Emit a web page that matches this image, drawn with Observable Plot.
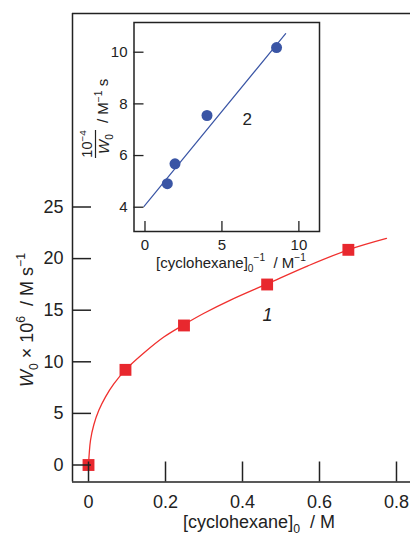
<!DOCTYPE html>
<html><head><meta charset="utf-8">
<script src="https://cdn.jsdelivr.net/npm/d3@7"></script>
<script src="https://cdn.jsdelivr.net/npm/@observablehq/plot@0.6"></script>
<style>
body{margin:0;background:#fff}
#wrap{position:relative;width:410px;height:535px;overflow:hidden;background:#fff}
#wrap svg{position:absolute;left:0;top:0}
</style></head><body><div id="wrap"></div>
<script>
// Main chart (1): W0 vs [cyclohexane]0
const concX = [0, 0.096, 0.248, 0.464, 0.675];
const rateY = [0, 9.22, 13.52, 17.49, 20.85];
const fitX = [0, 0.0052, 0.0138, 0.0268, 0.0442, 0.0657, 0.096, 0.1436, 0.1956, 0.248, 0.30, 0.37, 0.464, 0.57, 0.675, 0.774];
const fitY = [0, 2.4, 3.9, 5.3, 6.6, 7.85, 9.22, 10.85, 12.4, 13.6, 14.7, 16.0, 17.55, 19.3, 20.85, 21.95];
const mainXTicks = [0, 0.2, 0.4, 0.6, 0.8];
const mainYTicks = [0, 5, 10, 15, 20, 25];
// Inset (2): 1e-4/W0 vs 1/[cyclohexane]0
const invX = [1.45, 1.95, 4.03, 8.55];
const invY = [4.91, 5.68, 7.55, 10.18];
const lineX = [-0.06, 9.14];
const lineY = [4.03, 10.72];
const insetXTicks = [0, 5, 10];
const insetYTicks = [4, 6, 8, 10];

const FONT = "'Liberation Sans', Arial, Helvetica, sans-serif";
const INK = "#222";
const RED = "#e8282e";
const BLUE = "#3a55a5";

const xDom = [-0.0416, 0.8364], yDom = [-1.647, 43.75];
const main = Plot.plot({
  width: 410, height: 535,
  marginLeft: 72, marginRight: 0, marginTop: 13, marginBottom: 53.5,
  style: {fontFamily: FONT, fontSize: "18px", background: "transparent", color: INK},
  x: {domain: xDom, label: null},
  y: {domain: yDom, label: null},
  marks: [
    Plot.line(fitX.map((x, i) => ({x, y: fitY[i]})), {x: "x", y: "y", stroke: "#f0302e", strokeWidth: 1.3, curve: "catmull-rom"}),
    Plot.dot(concX.map((x, i) => ({x, y: rateY[i]})), {x: "x", y: "y", symbol: "square", r: 6.7, fill: RED, stroke: "none"}),
    Plot.ruleX([xDom[0]], {stroke: INK, strokeWidth: 1.5}),
    Plot.ruleY([yDom[0], yDom[1]], {stroke: INK, strokeWidth: 1.5}),
    Plot.axisX({ticks: mainXTicks, tickSize: -20, tickPadding: 33, strokeWidth: 1.5, label: null, tickFormat: d => String(d)}),
    Plot.axisY({ticks: mainYTicks, tickSize: -19, tickPadding: 28, strokeWidth: 1.5, label: null, tickFormat: d => String(d)}),
    Plot.text([{x: 0.465, y: 14.5}], {x: "x", y: "y", text: () => "1", fontStyle: "italic", fontSize: 18, fill: INK})
  ]
});

const ixDom = [-0.714, 11.34], iyDom = [3.06, 11.15];
const inset = Plot.plot({
  width: 410, height: 280,
  marginLeft: 133.5, marginRight: 91, marginTop: 22, marginBottom: 49,
  style: {fontFamily: FONT, fontSize: "15px", background: "transparent", color: INK},
  x: {domain: ixDom, label: null},
  y: {domain: iyDom, label: null},
  marks: [
    Plot.frame({fill: "white", stroke: INK, strokeWidth: 1.5}),
    Plot.line(lineX.map((x, i) => ({x, y: lineY[i]})), {x: "x", y: "y", stroke: BLUE, strokeWidth: 1.2}),
    Plot.dot(invX.map((x, i) => ({x, y: invY[i]})), {x: "x", y: "y", r: 5.5, fill: BLUE, stroke: "none"}),
    Plot.axisX({ticks: insetXTicks, tickSize: -10, tickPadding: 18, strokeWidth: 1.3, label: null, tickFormat: d => String(d)}),
    Plot.axisY({ticks: insetYTicks, tickSize: -10, tickPadding: 16.5, strokeWidth: 1.3, label: null, tickFormat: d => String(d)}),
    Plot.text([{x: 6.65, y: 7.4}], {x: "x", y: "y", text: () => "2", fontSize: 17, fill: INK})
  ]
});

const wrap = document.getElementById("wrap");
wrap.appendChild(main);
wrap.appendChild(inset);

function rich(svg, {x, y, rotate = 0, anchor = "middle", size = 18}, parts) {
  const g = d3.select(svg).append("g").attr("transform", `translate(${x},${y}) rotate(${rotate})`);
  const t = g.append("text").attr("text-anchor", anchor).attr("font-size", size)
    .attr("font-family", FONT).attr("fill", INK);
  let cur = 0;
  for (const [str, kind = ""] of parts) {
    const shift = kind.includes("sub") ? 0.28 * size : kind.includes("sup") ? -0.42 * size : 0;
    const fs = (kind.includes("sub") || kind.includes("sup")) ? 0.68 * size : size;
    const ts = t.append("tspan").attr("dy", shift - cur).attr("font-size", fs).text(str);
    if (kind.includes("i")) ts.attr("font-style", "italic");
    cur = shift;
  }
  return t;
}
const NB = "\u00A0";
// main axis labels
rich(main, {x: 33, y: 320, rotate: -90, size: 18},
  [["W", "i"], ["0", "sub"], [NB + "×" + NB + "10"], ["6", "sup"], [NB + NB + "/" + NB + "M" + NB + "s"], ["−1", "sup"]]);
rich(main, {x: 259, y: 527.5, size: 18},
  [["[cyclohexane]"], ["0", "sub"], [NB + NB + "/" + NB + "M"]]);
// inset axis labels
rich(inset, {x: 231, y: 267.5, size: 15},
  [["[cyclohexane]"], ["0", "sub"], ["−1", "sup"], [NB + NB + "/" + NB + "M"], ["−1", "sup"]]);
rich(inset, {x: 92, y: 144, rotate: -90, size: 14.5}, [["10"], ["−4", "sup"]]);
d3.select(inset).append("line").attr("x1", 95.5).attr("x2", 95.5).attr("y1", 130).attr("y2", 158)
  .attr("stroke", INK).attr("stroke-width", 1.2);
rich(inset, {x: 109, y: 144, rotate: -90, size: 15}, [["W", "i"], ["0", "sub"]]);
rich(inset, {x: 108, y: 123, rotate: -90, anchor: "start", size: 15},
  [["/" + NB + "M"], ["−1", "sup"], [NB + "s"]]);
</script></body></html>
